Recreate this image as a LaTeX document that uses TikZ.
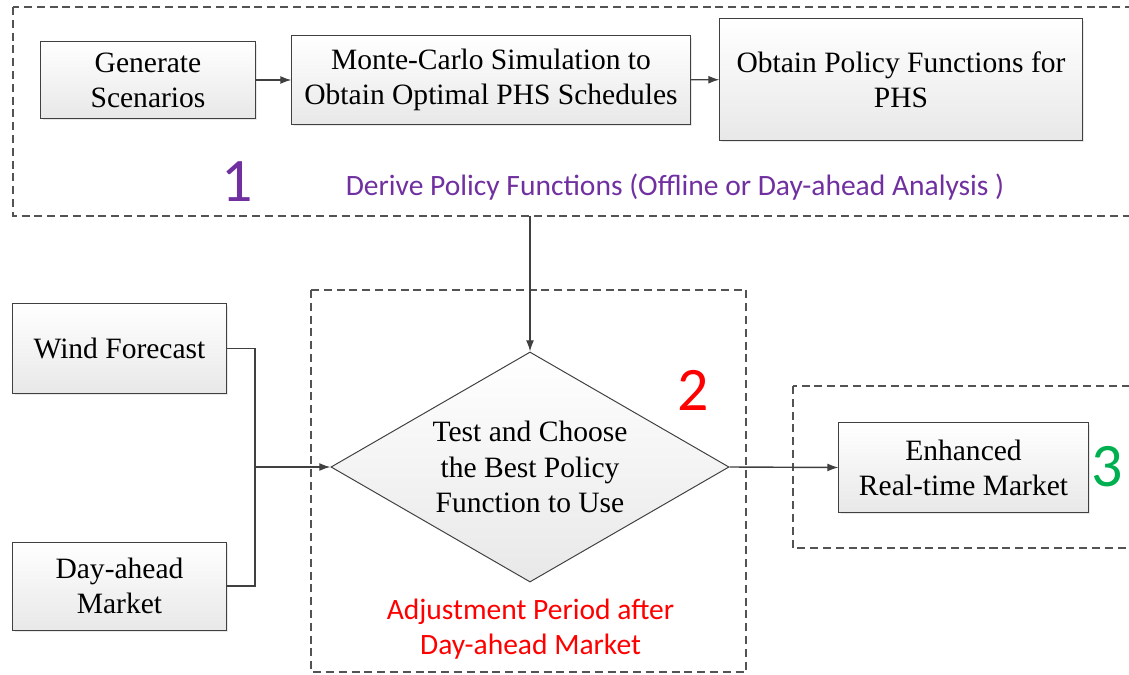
\documentclass[tikz,border=0pt]{standalone}
\usepackage{fontspec}
\setmainfont{Liberation Serif}
\newfontfamily\calfont{Carlito}
\usetikzlibrary{shapes.geometric, arrows.meta, shadows}

\definecolor{linegray}{HTML}{404040}
\definecolor{officepurple}{HTML}{7030A0}
\definecolor{officegreen}{HTML}{00B050}

\tikzset{
	block/.style={rectangle, draw=linegray, line width=0.7pt, top color=white, bottom color=gray!18,
		drop shadow={shadow xshift=0.05cm, shadow yshift=-0.05cm, fill=gray!30, opacity=0.6},
		align=center, font=\fontsize{21}{25}\selectfont, inner sep=0pt},
	group/.style={draw=linegray!90, line width=0.9pt, dash pattern=on 0.2cm off 0.12cm},
	link/.style={draw=linegray, line width=1pt},
	>={Latex[length=0.28cm,width=0.2cm]}
}

\begin{document}
\begin{tikzpicture}[x=0.025cm, y=-0.025cm]
	\useasboundingbox (0,0) rectangle (1129,675);
	\clip (0,0) rectangle (1129,675);
	% groups
	\draw[group] (13,7) rectangle (1145,216);
	\draw[group] (311,290) rectangle (746,672);
	\draw[group] (793,386) rectangle (1145,548);
	% step 1
	\node at (148,80) [block, minimum width=5.35cm, minimum height=1.9cm] (gen) {Generate\\Scenarios};
	\node at (491,80) [block, minimum width=9.95cm, minimum height=2.2cm] (mc) {Monte-Carlo Simulation to\\Obtain Optimal PHS Schedules};
	\node at (901,79.5) [block, minimum width=9.05cm, minimum height=3.025cm] (pol) {Obtain Policy Functions for\\PHS};
	\draw[link, ->] (gen) -- (mc);
	\draw[link, ->] (mc) -- (pol);
	\node at (237,182) [text=officepurple, font=\calfont\fontsize{44}{48}\selectfont] (one) {1};
	\node at (675,187) [text=officepurple, font=\calfont\fontsize{21}{25}\selectfont] (derive) {Derive Policy Functions (Offline or Day-ahead Analysis )};
	% step 2
	\node at (530,467) [diamond, aspect=1.73, draw=linegray, line width=0.7pt, top color=white, bottom color=gray!18,
		minimum width=9.95cm, minimum height=5.75cm, inner sep=0pt, align=center,
		font=\fontsize{21}{25}\selectfont] (test) {Test and Choose\\the Best Policy\\Function to Use};
	\coordinate (out1) at (530,216);
	\draw[link, ->] (out1) -- (test.north);
	\node at (119.5,348.5) [block, minimum width=5.325cm, minimum height=2.225cm] (wind) {Wind Forecast};
	\node at (119.5,586) [block, minimum width=5.325cm, minimum height=2.2cm] (dam) {Day-ahead\\Market};
	\coordinate (join) at (255,467);
	\draw[link] (wind.east) -| (join);
	\draw[link] (dam.east) -| (join);
	\draw[link, ->] (join) -- (test.west);
	\node at (693,390) [text=red, font=\calfont\fontsize{44}{48}\selectfont] (two) {2};
	\node at (530.5,629.5) [text=red, align=center, font=\calfont\fontsize{21}{25}\selectfont] (adjust) {Adjustment Period after\\Day-ahead Market};
	% step 3
	\node at (963.5,467.5) [block, minimum width=6.225cm, minimum height=2.225cm] (enh) {Enhanced\\Real-time Market};
	\draw[link, ->] (test.east) -- (enh.west);
	\node at (1107,467) [text=officegreen, font=\calfont\fontsize{44}{48}\selectfont] (three) {3};
\end{tikzpicture}
\end{document}
